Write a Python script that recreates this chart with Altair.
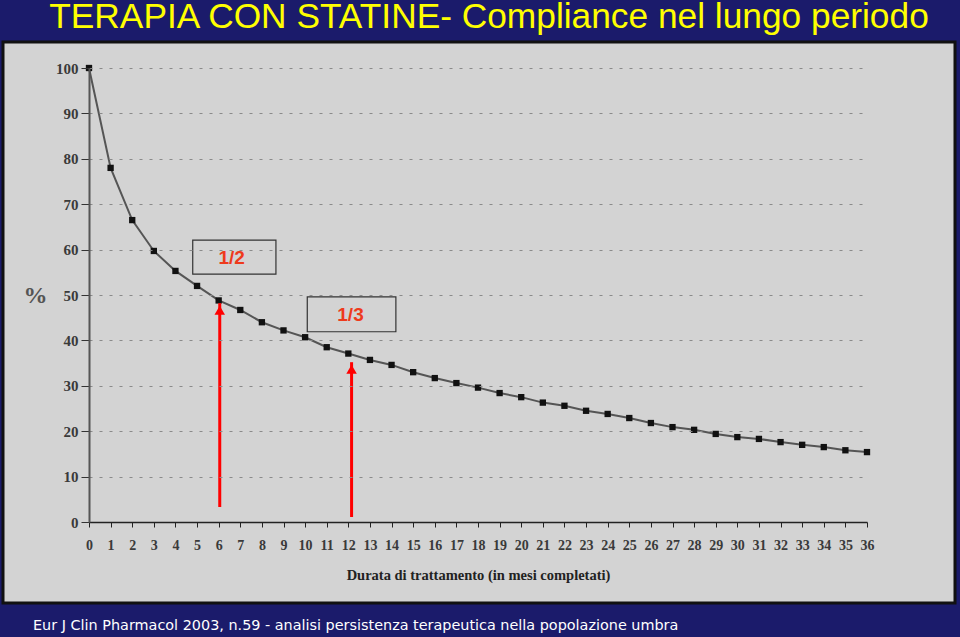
import altair as alt
import pandas as pd

# ---- data ----
months = list(range(37))
persistence = [100, 78, 66.5, 59.7, 55.3, 52, 48.8, 46.7, 44, 42.2, 40.7, 38.5,
               37.1, 35.7, 34.6, 33, 31.7, 30.6, 29.6, 28.4, 27.5, 26.3, 25.6,
               24.5, 23.8, 22.9, 21.8, 20.9, 20.3, 19.4, 18.7, 18.3, 17.6, 17.0,
               16.5, 15.8, 15.4]
x_ticks = list(range(37))
y_ticks = list(range(0, 101, 10))

box_labels = ["1/2", "1/3"]
box_x1 = [4.8, 10.1]
box_x2 = [8.65, 14.2]
box_y1 = [54.6, 41.9]
box_y2 = [62.1, 49.6]
box_tx = [6.6, 12.1]
box_ty = [58.2, 45.6]

arrow_x = [6.05, 12.15]
arrow_base = [3.3, 1.1]
arrow_tip = [48.2, 35.2]

TITLE = "TERAPIA CON STATINE- Compliance nel lungo periodo"
FOOTER = "Eur J Clin Pharmacol 2003, n.59 - analisi persistenza terapeutica nella popolazione umbra"
X_TITLE = "Durata di trattamento (in mesi completati)"

curve = pd.DataFrame({"m": months, "p": persistence})
boxes = pd.DataFrame({"lab": box_labels, "x1": box_x1, "x2": box_x2,
                      "y1": box_y1, "y2": box_y2, "tx": box_tx, "ty": box_ty})
arrows = pd.DataFrame({"x": arrow_x, "b": arrow_base, "t": arrow_tip})

xs = alt.Scale(domain=[0, 36], nice=False, zero=False)
ys = alt.Scale(domain=[0, 100], nice=False)

serif = "Liberation Serif"

x_axis = alt.Axis(values=x_ticks, tickSize=5, tickColor="#222", domainColor="#222",
                  domainWidth=1.5, labelFont=serif, labelFontSize=14, labelFontWeight="bold",
                  labelColor="#3a3a3a", labelPadding=11, labelOverlap=False, labelFlush=False,
                  grid=False, title=X_TITLE, titleFont=serif, titleFontSize=14.5,
                  titleFontWeight="bold", titleColor="#222", titleY=46,
                  titleBaseline="top", zindex=1)
y_axis = alt.Axis(values=y_ticks, tickSize=8, tickColor="#333", domainColor="#555",
                  domainWidth=2, labelFont=serif, labelFontSize=15, labelFontWeight="bold",
                  labelColor="#3a3a3a", labelPadding=3, grid=True, gridColor="#8a8a8a",
                  gridDash=[3, 7], gridWidth=1.2, title="%", titleAngle=0,
                  titleFont=serif, titleFontSize=24, titleFontWeight="bold",
                  titleColor="#555", titleX=-54, titleY=227, titleAlign="center",
                  titleBaseline="middle", zindex=1)

panel = alt.Chart(pd.DataFrame({"a": [0]})).mark_rect(
    fill="#d3d3d3", stroke="#111111", strokeWidth=3
).encode(x=alt.value(-86), x2=alt.value(866), y=alt.value(-26), y2=alt.value(535))

line = alt.Chart(curve).mark_line(color="#555555", strokeWidth=2).encode(
    x=alt.X("m:Q", scale=xs, axis=x_axis),
    y=alt.Y("p:Q", scale=ys, axis=y_axis),
)
pts = alt.Chart(curve).mark_point(shape="square", filled=True, color="#111111",
                                  size=40, opacity=1).encode(
    x=alt.X("m:Q", scale=xs, axis=x_axis),
    y=alt.Y("p:Q", scale=ys, axis=y_axis),
)

box_rect = alt.Chart(boxes).mark_rect(fill="#d3d3d3", stroke="#333333",
                                      strokeWidth=1.2).encode(
    x=alt.X("x1:Q", scale=xs, axis=x_axis), x2="x2:Q",
    y=alt.Y("y1:Q", scale=ys, axis=y_axis), y2="y2:Q",
)
box_text = alt.Chart(boxes).mark_text(font="Liberation Sans", fontSize=19,
                                      fontWeight="bold", color="#ee3a1c",
                                      align="center", baseline="middle").encode(
    x=alt.X("tx:Q", scale=xs, axis=x_axis),
    y=alt.Y("ty:Q", scale=ys, axis=y_axis),
    text="lab:N",
)

shaft = alt.Chart(arrows).mark_rule(color="#ff0000", strokeWidth=3).encode(
    x=alt.X("x:Q", scale=xs, axis=x_axis),
    y=alt.Y("b:Q", scale=ys, axis=y_axis), y2="t:Q",
)
head = alt.Chart(arrows).mark_point(shape="triangle-up", filled=True, color="#ff0000",
                                    size=110, opacity=1, yOffset=7).encode(
    x=alt.X("x:Q", scale=xs, axis=x_axis),
    y=alt.Y("t:Q", scale=ys, axis=y_axis),
)

title = alt.Chart(pd.DataFrame({"t": [TITLE]})).mark_text(
    font="Liberation Sans", fontSize=35.3, color="#ffff00", align="center",
    baseline="alphabetic").encode(text="t:N", x=alt.value(400), y=alt.value(-40))

footer = alt.Chart(pd.DataFrame({"t": [FOOTER]})).mark_text(
    font="DejaVu Sans", fontSize=14.4, color="#ffffff", align="left",
    baseline="alphabetic").encode(text="t:N", x=alt.value(-56), y=alt.value(562))

chart = alt.layer(panel, line, pts, box_rect, box_text, shaft, head, title, footer).properties(
    width=778, height=454,
    autosize=alt.AutoSizeParams(type="none"),
    padding={"left": 89, "top": 68, "right": 93, "bottom": 115},
    background="#1b1b6b",
).configure_view(stroke=None)

chart.save("out.html", embed_options={"renderer": "svg", "actions": False})
